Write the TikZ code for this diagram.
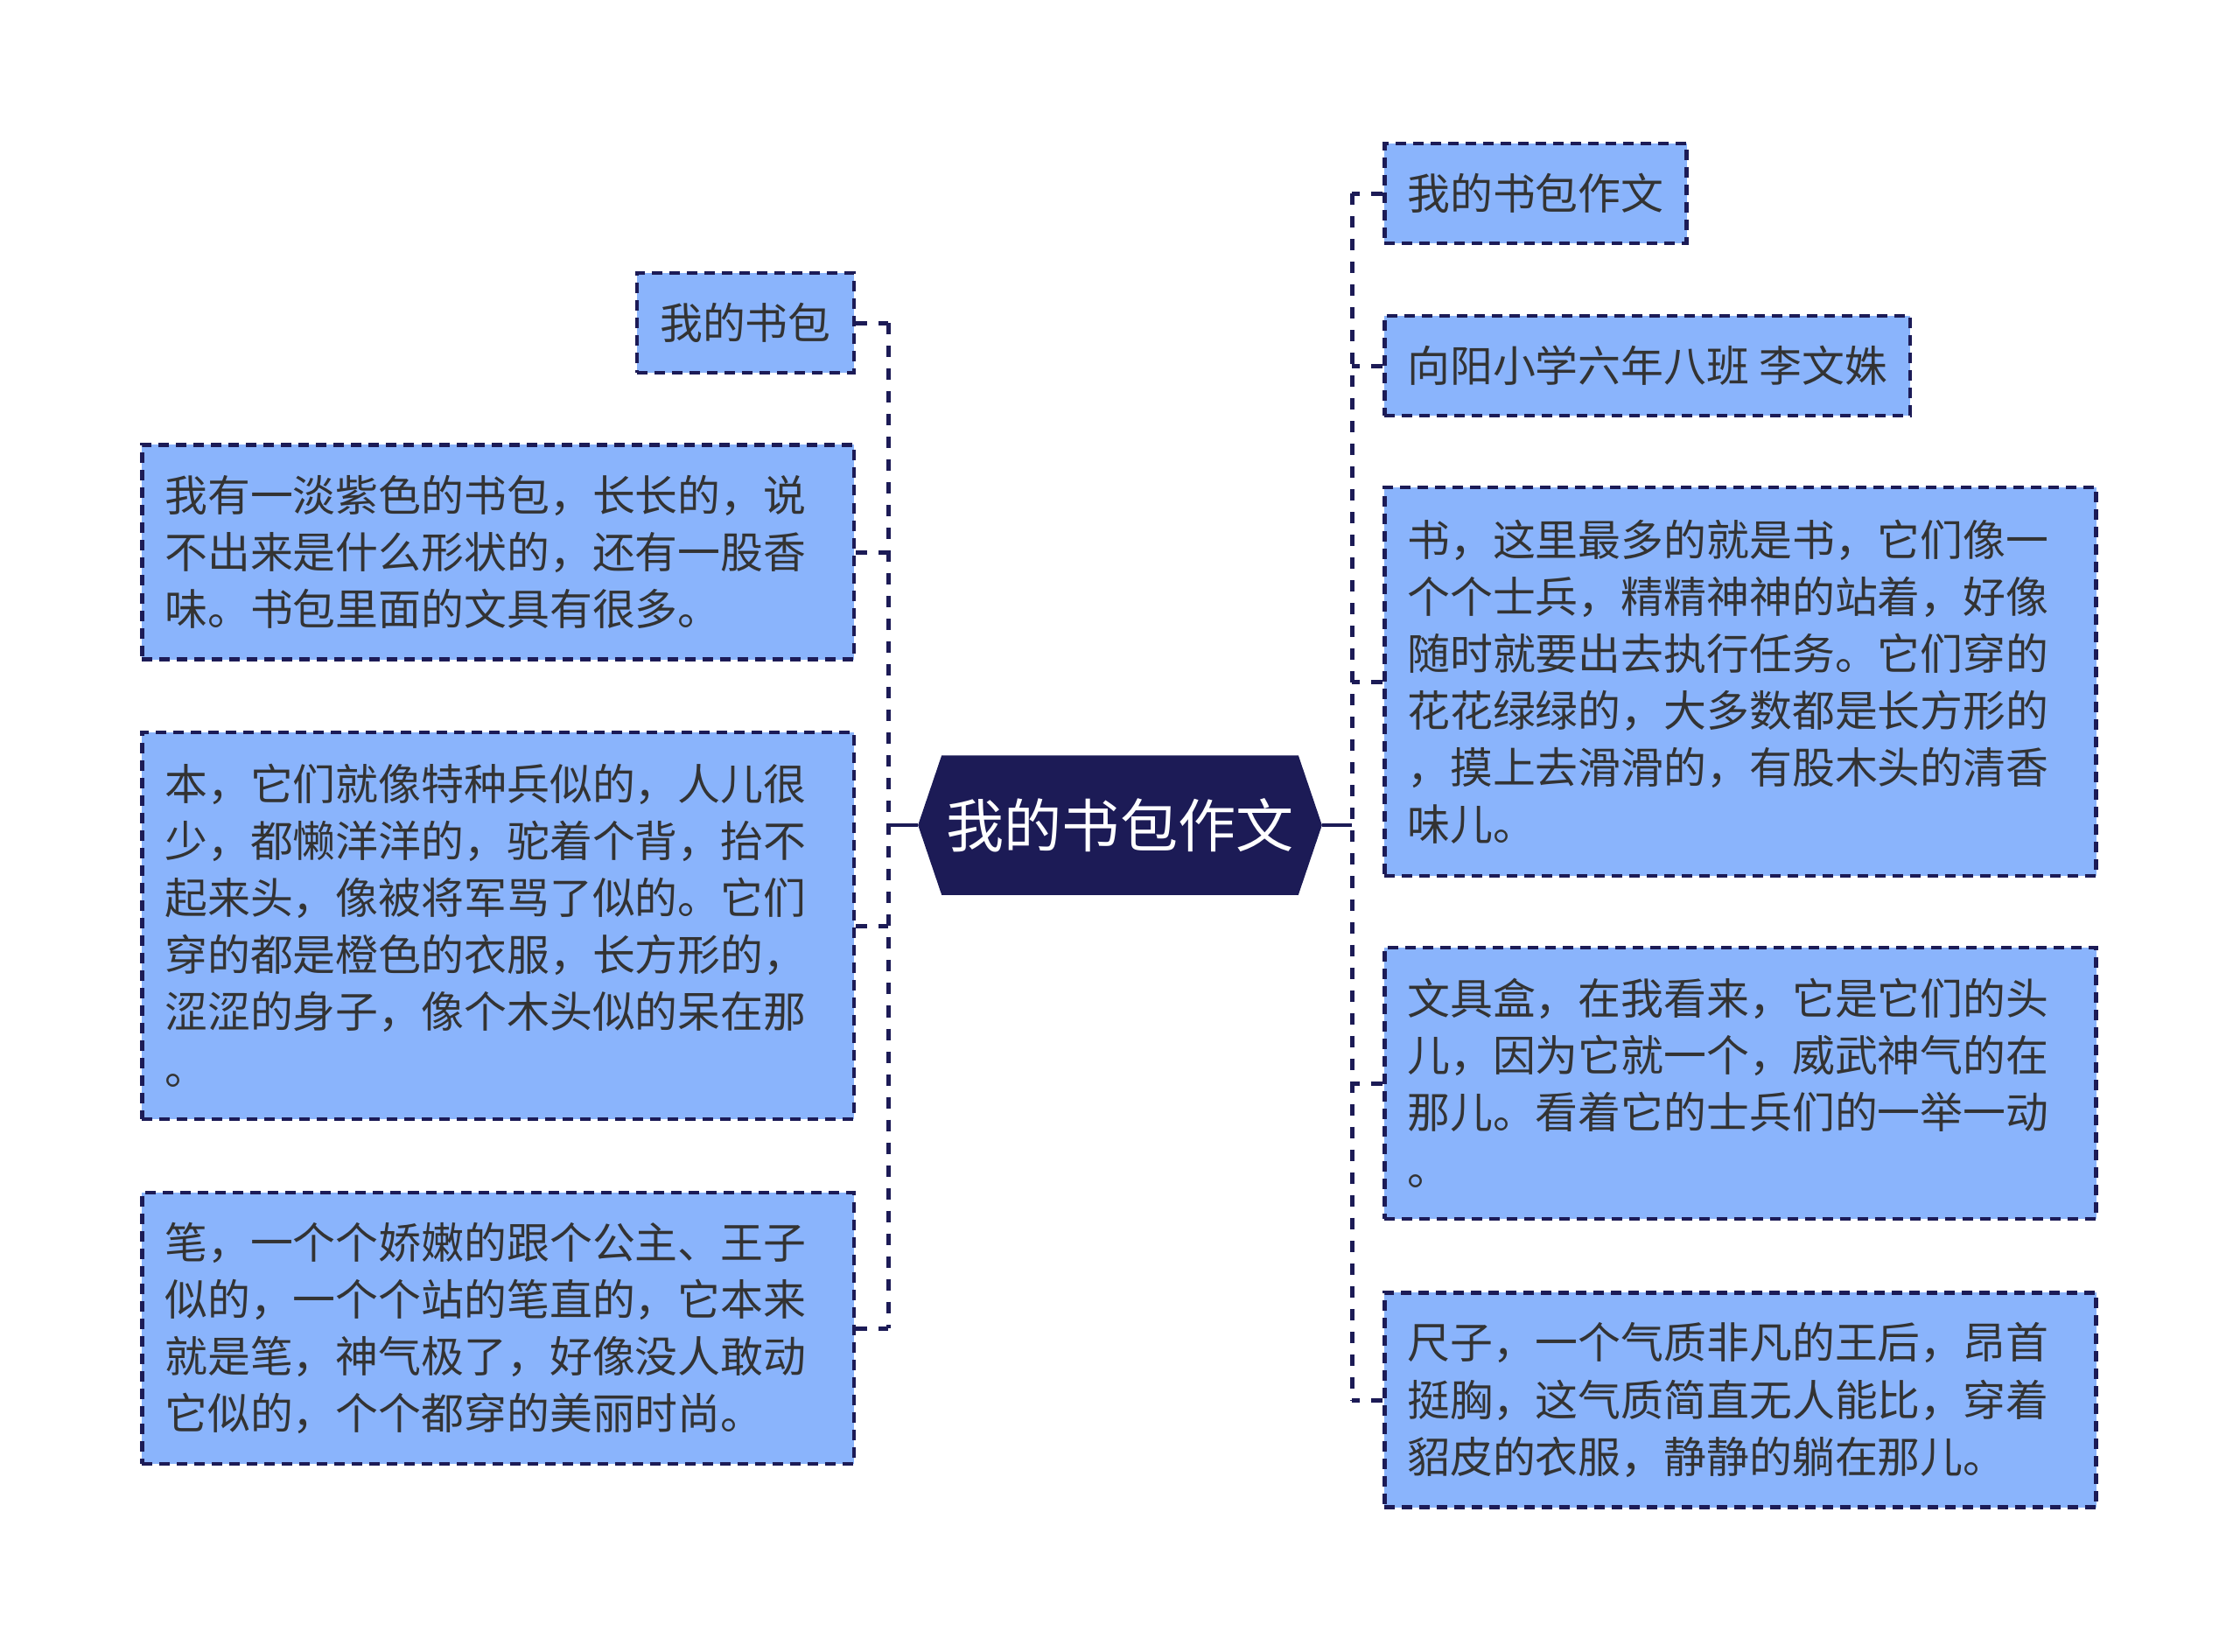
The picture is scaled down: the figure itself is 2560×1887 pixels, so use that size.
\documentclass[tikz,border=0pt]{standalone}
\usepackage{fontspec}
\setmainfont{Noto Sans CJK SC}
\usetikzlibrary{positioning}
\usetikzlibrary{backgrounds}

\definecolor{leafblue}{HTML}{8AB4FC}
\definecolor{navy}{HTML}{1C1B56}
\definecolor{inkgray}{HTML}{333333}

\begin{document}
\begin{tikzpicture}[x=0.01cm,y=-0.01cm,
    leaf/.style={draw=navy,fill=leafblue,line width=0.045cm,dash pattern=on 0.12cm off 0.08cm,
      text=inkgray,font=\fontsize{13.9pt}{18.5pt}\selectfont,inner xsep=0.26cm,inner ysep=0pt,
      minimum height=1.14cm},
    para/.style={leaf,text width=7.61cm,align=left},
    rootbox/.style={minimum width=4.06cm,minimum height=1.58cm,inner sep=0pt,text=white,
      font=\fontsize{18.8pt}{22pt}\selectfont},
    link/.style={draw=navy,line width=0.05cm,dash pattern=on 0.13cm off 0.13cm},
    spine/.style={draw=navy,line width=0.045cm}]
    \useasboundingbox (0,0) rectangle (2560,1887);

    \node [rootbox] (root) at (1280,943) {我的书包作文};
    \begin{pgfonlayer}{background}
      \fill [navy] (root.north west) -- (root.north east) -- ([xshift=0.27cm]root.east)
        -- (root.south east) -- (root.south west) -- ([xshift=-0.27cm]root.west) -- cycle;
    \end{pgfonlayer}

    % left side
    \node [leaf,anchor=east] (l1) at (978,369) {我的书包};
    \node [para,anchor=east,minimum height=2.45cm] (l2) at (978,631) {我有一淡紫色的书包，长长的，说\\不出来是什么形状的，还有一股香\\味。书包里面的文具有很多。};
    \node [para,anchor=east,minimum height=4.42cm] (l3) at (978,1058) {本，它们就像特种兵似的，人儿很\\少，都懒洋洋的，驼着个背，抬不\\起来头，像被将军骂了似的。它们\\穿的都是橙色的衣服，长方形的，\\涩涩的身子，像个木头似的呆在那\\。};
    \node [para,anchor=east,minimum height=3.10cm] (l4) at (978,1518) {笔，一个个娇嫩的跟个公主、王子\\似的，一个个站的笔直的，它本来\\就是笔，神气极了，好像没人敢动\\它似的，个个都穿的美丽时尚。};

    % right side
    \node [leaf,anchor=west] (r1) at (1580,221) {我的书包作文};
    \node [leaf,anchor=west] (r2) at (1580,418) {向阳小学六年八班 李文姝};
    \node [para,anchor=west,minimum height=4.44cm] (r3) at (1580,779) {书，这里最多的就是书，它们像一\\个个士兵，精精神神的站着，好像\\随时就要出去执行任务。它们穿的\\花花绿绿的，大多数都是长方形的\\，摸上去滑滑的，有股木头的清香\\味儿。};
    \node [para,anchor=west,minimum height=3.10cm] (r4) at (1580,1238) {文具盒，在我看来，它是它们的头\\儿，因为它就一个，威武神气的在\\那儿。看着它的士兵们的一举一动\\。};
    \node [para,anchor=west,minimum height=2.45cm] (r5) at (1580,1600) {尺子，一个气质非凡的王后，昂首\\挺胸，这气质简直无人能比，穿着\\貂皮的衣服，静静的躺在那儿。};

    \coordinate (ltrunk) at (1015,943);
    \coordinate (rtrunk) at (1545,943);

    \draw [spine] ([xshift=-0.27cm]root.west) -- (ltrunk);
    \draw [spine] ([xshift=0.27cm]root.east) -- (rtrunk);

    \draw [link] (l1.east -| ltrunk) -- (l4.east -| ltrunk);
    \foreach \n in {l1,l2,l3,l4}
      \draw [link] (\n.east) -- (\n.east -| ltrunk);

    \draw [link] (r1.west -| rtrunk) -- (r5.west -| rtrunk);
    \foreach \n in {r1,r2,r3,r4,r5}
      \draw [link] (\n.west) -- (\n.west -| rtrunk);

  \end{tikzpicture}
\end{document}
